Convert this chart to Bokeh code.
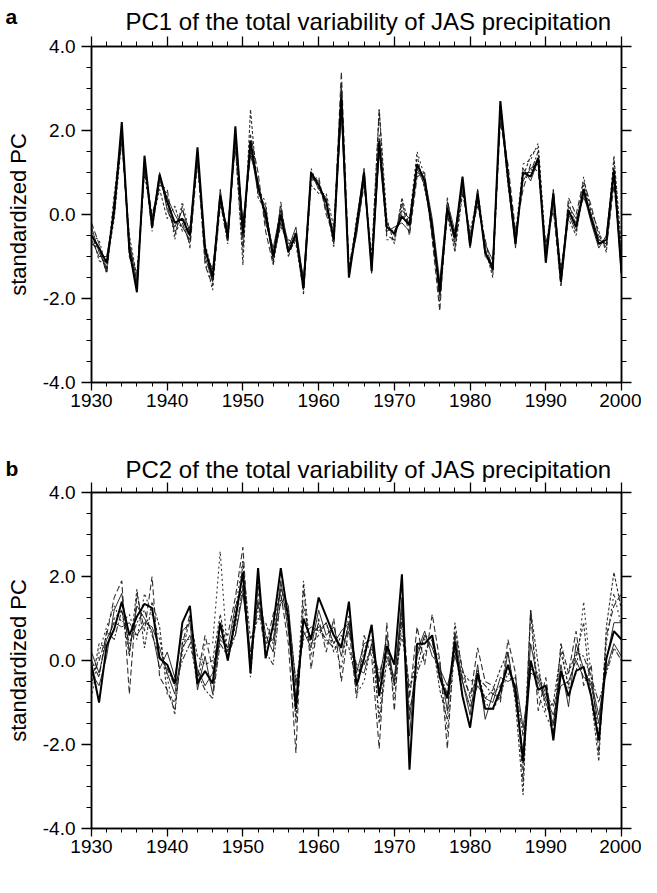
from bokeh.plotting import figure
from bokeh.layouts import column
from bokeh.models import (LinearAxis, SingleIntervalTicker, PrintfTickFormatter,
                          Range1d, Label, Title)
from bokeh.embed import file_html
from bokeh.resources import INLINE

years = list(range(1930, 2001))

# ---------- panel a: PC1 ----------
pc1_main = [
    -0.5, -0.8, -1.15, 0.1, 2.2, -0.85, -1.85, 1.4, -0.3, 0.95,
    0.3, -0.2, -0.1, -0.5, 1.6, -0.8, -1.5, 0.45, -0.55, 2.1,
    -0.45, 1.75, 0.65, 0.0, -1.0, 0.0, -0.9, -0.45, -1.75, 1.0,
    0.7, 0.3, -0.6, 2.8, -1.5, -0.3, 1.0, -1.35, 1.75, -0.3,
    -0.45, -0.05, -0.25, 1.2, 0.8, -0.3, -1.85, 0.15, -0.55, 0.9,
    -0.75, 0.5, -0.9, -1.3, 2.7, 0.9, -0.7, 1.0, 0.9, 1.35,
    -1.15, 0.5, -1.6, 0.1, -0.3, 0.6, -0.1, -0.7, -0.6, 1.05,
    -1.4]
pc1_s2 = [
    -0.3, -0.9, -1.3, 0.3, 2.0, -0.7, -1.6, 1.2, -0.1, 0.8,
    0.4, 0.0, -0.3, -0.6, 1.4, -0.9, -1.3, 0.3, -0.4, 1.8,
    -0.2, 1.4, 0.8, -0.2, -0.8, 0.1, -0.7, -0.6, -1.5, 0.9,
    0.8, 0.1, -0.4, 2.4, -1.3, -0.5, 0.8, -1.2, 1.5, -0.4,
    -0.3, -0.2, -0.4, 1.0, 0.9, -0.1, -1.6, 0.3, -0.4, 0.7,
    -0.6, 0.3, -0.7, -1.1, 2.4, 1.0, -0.5, 0.8, 1.1, 1.2,
    -0.9, 0.3, -1.4, 0.2, -0.1, 0.4, 0.0, -0.6, -0.7, 0.9,
    -1.2]
pc1_s3 = [
    -0.6, -1.0, -1.0, 0.0, 1.9, -0.9, -1.7, 1.3, -0.2, 1.0,
    0.1, -0.3, 0.1, -0.4, 1.5, -1.0, -1.6, 0.6, -0.6, 1.9,
    -0.6, 1.6, 0.5, 0.2, -1.1, -0.2, -0.8, -0.3, -1.6, 1.0,
    0.6, 0.4, -0.7, 2.6, -1.4, -0.2, 1.1, -1.4, 1.6, -0.2,
    -0.5, 0.1, -0.1, 1.1, 0.7, -0.4, -1.7, 0.0, -0.6, 0.8,
    -0.8, 0.6, -1.0, -1.2, 2.5, 0.8, -0.8, 1.1, 0.8, 1.3,
    -1.0, 0.6, -1.5, 0.0, -0.4, 0.5, -0.2, -0.8, -0.5, 1.1,
    -1.5]
pc1_d1 = [
    -0.2, -0.7, -1.4, 0.4, 1.7, -0.6, -1.8, 1.1, 0.0, 0.7,
    0.6, -0.5, 0.2, -0.8, 1.3, -1.2, -1.7, 0.2, -0.3, 1.6,
    -0.9, 1.9, 1.0, -0.4, -1.2, 0.3, -1.0, -0.5, -1.9, 0.8,
    0.9, 0.0, -0.5, 3.4, -1.2, -0.4, 0.7, -1.1, 2.5, -0.5,
    -0.6, 0.3, -0.5, 0.9, 1.0, -0.6, -2.3, 0.4, -0.8, 0.6,
    -0.5, 0.2, -0.6, -1.4, 2.2, 1.2, -0.4, 0.6, 1.2, 1.0,
    -0.7, 0.1, -1.7, 0.4, 0.0, 0.8, 0.2, -0.5, -0.8, 0.7,
    -1.0]
pc1_d2 = [
    -0.4, -1.1, -1.2, -0.1, 1.8, -0.5, -1.5, 1.0, -0.2, 0.6,
    -0.1, 0.2, -0.4, -0.3, 1.2, -0.7, -1.4, 0.5, -0.5, 1.7,
    -1.2, 2.5, 0.4, 0.1, -0.9, -0.3, -0.6, -0.7, -1.8, 0.7,
    0.5, 0.5, -0.3, 3.0, -1.5, -0.1, 0.9, -1.0, 2.5, -0.1,
    -0.7, 0.4, -0.3, 1.4, 0.6, -0.2, -2.0, 0.0, -0.9, 0.5,
    -0.4, 0.4, -0.8, -1.5, 2.6, 0.7, -0.6, 0.9, 1.4, 1.6,
    -0.8, 0.4, -1.3, -0.1, -0.5, 0.7, 0.1, -0.4, -0.9, 1.4,
    -0.8]
pc1_d3 = [
    -0.7, -0.8, -1.4, 0.2, 2.1, -1.0, -1.6, 1.2, -0.4, 0.9,
    0.2, -0.4, -0.2, -0.7, 1.5, -0.9, -1.6, 0.3, -0.7, 2.0,
    -0.3, 1.5, 0.7, -0.1, -1.0, 0.2, -0.9, -0.6, -1.7, 0.9,
    0.7, 0.2, -0.6, 3.1, -1.4, -0.4, 1.0, -1.3, 1.8, -0.3,
    -0.4, 0.0, -0.2, 1.2, 0.8, -0.5, -1.9, 0.1, -0.5, 0.8,
    -0.7, 0.5, -0.9, -1.2, 2.6, 1.1, -0.7, 1.0, 1.0, 1.5,
    -1.1, 0.5, -1.7, 0.1, -0.2, 0.6, -0.1, -0.6, -0.7, 1.0,
    -1.3]
pc1_d4 = [
    -0.5, -0.6, -1.3, 0.5, 1.9, -0.8, -1.4, 1.0, -0.1, 0.7,
    0.5, -0.6, 0.3, -0.5, 1.3, -1.1, -1.8, 0.4, -0.6, 1.9,
    -0.5, 1.8, 0.6, 0.3, -1.2, -0.1, -0.8, -0.4, -1.8, 1.1,
    0.6, 0.3, -0.8, 2.9, -1.3, -0.2, 0.8, -1.2, 1.9, -0.6,
    -0.6, 0.2, -0.1, 1.5, 0.9, -0.3, -2.1, 0.2, -0.7, 0.7,
    -0.6, 0.6, -0.7, -1.3, 2.4, 0.9, -0.5, 1.2, 1.3, 1.7,
    -0.9, 0.3, -1.5, 0.3, -0.3, 0.9, 0.0, -0.7, -0.6, 1.3,
    -1.1]

# ---------- panel b: PC2 ----------
pc2_main = [
    -0.1, -1.0, 0.35, 0.75, 1.4, 0.6, 1.05, 1.35, 1.25, 0.05,
    -0.1, -0.55, 0.9, 1.3, -0.55, -0.25, -0.55, 0.9, 0.0, 1.0,
    2.1, -0.3, 2.2, 0.05, 0.85, 2.2, 1.0, -1.15, 1.0, 0.5,
    1.5, 1.05, 0.6, 0.3, 1.4, -0.6, 0.05, 0.85, -0.85, 0.35,
    -0.1, 2.05, -2.6, 0.4, 0.4, 0.6, -0.4, -0.9, 0.45, -0.85,
    -1.6, -0.3, -1.15, -1.15, -0.7, -0.1, -0.7, -2.4, 0.0, -0.7,
    -0.6, -1.9, -0.25, -0.85, -0.25, -0.15, -0.85, -1.9, 0.05, 0.7,
    0.5]
pc2_s2 = [
    0.2, -0.3, 0.5, 0.9, 0.8, 0.9, 0.6, 0.9, 0.8, 0.3,
    -0.3, -0.8, 0.3, 0.6, -0.2, -0.6, -0.3, 0.5, 0.3, 0.6,
    1.6, 0.2, 1.4, 0.4, 0.5, 1.7, 1.3, -0.6, 0.6, 0.8,
    0.7, 0.9, 0.4, 0.7, 0.9, -0.3, 0.4, 0.5, -0.5, 0.1,
    -0.4, 1.2, -1.4, 0.1, 0.6, 0.3, -0.2, -0.6, 0.1, -0.5,
    -1.1, -0.6, -0.9, -1.0, -0.4, -0.5, -0.4, -1.6, -0.3, -0.4,
    -0.9, -1.3, -0.6, -0.5, 0.0, -0.4, -0.5, -1.3, -0.2, 0.4,
    0.1]
pc2_s3 = [
    -0.3, -0.6, 0.1, 1.2, 1.6, 0.2, 1.3, 1.0, 0.7, -0.2,
    0.2, -0.4, 0.7, 0.9, -0.7, 0.1, -0.8, 0.6, 0.3, 1.3,
    1.7, -0.1, 1.8, 0.6, 0.2, 1.9, 0.7, -0.9, 0.7, 0.3,
    1.2, 0.6, 0.8, 0.1, 0.9, -0.2, -0.3, 0.4, -0.5, 0.6,
    -0.6, 1.5, -1.8, 0.2, 0.7, 0.1, -0.1, -1.2, 0.6, -0.5,
    -1.3, -0.1, -1.4, -0.8, -0.9, 0.2, -0.9, -2.2, 0.4, -0.5,
    -1.0, -1.5, -0.1, -1.1, 0.4, -0.2, -0.6, -1.5, 0.0, 0.9,
    0.9]
pc2_d1 = [
    -0.4, 0.0, 0.6, 1.5, 1.9, -0.8, 1.6, 0.7, 2.0, -0.4,
    -0.7, -1.2, 0.4, 1.1, -0.4, 0.6, -0.2, 0.8, 0.6, 1.5,
    2.7, -0.2, 1.6, 0.3, 1.1, 1.6, 0.4, -2.2, 1.8, -0.2,
    1.0, 0.2, 1.0, -0.5, 0.8, -0.9, 0.6, 0.1, -2.1, 0.9,
    -1.2, 1.4, -0.9, 0.8, -0.1, 1.1, 0.0, -2.1, 0.7, -0.2,
    -0.9, 0.3, -0.5, -0.6, -1.0, 0.5, -0.3, -2.9, 1.2, -1.2,
    -0.4, -1.7, 0.4, -0.3, 0.7, -0.6, -0.1, -2.2, 0.6, 1.3,
    1.6]
pc2_d2 = [
    -0.6, 0.4, 0.3, 1.0, 1.2, 0.1, 1.7, 0.3, 1.4, 0.8,
    -0.8, -1.0, 0.2, 1.0, 0.1, -0.1, 0.0, 1.1, 0.2, 0.8,
    2.3, 0.5, 1.0, 0.9, 0.4, 1.4, 1.2, -1.5, 1.3, 0.4,
    0.6, 0.9, 0.2, 0.6, 0.3, -0.5, 0.2, 0.8, -1.5, 0.0,
    -0.5, 0.6, -0.6, -0.2, 0.6, 0.5, -0.7, -1.4, 0.9, -0.3,
    -0.5, -0.4, -0.9, -0.7, -0.2, 0.2, -1.0, -3.2, 1.2, -0.1,
    -1.2, -1.0, 0.2, -0.6, 0.1, 0.9, -0.9, -2.4, 0.8, 2.1,
    1.2]
pc2_d3 = [
    0.0, -0.4, 0.7, 0.5, 1.2, 0.4, 0.9, 1.2, 0.6, 0.1,
    -0.2, -0.6, 0.0, 0.4, -0.3, -0.7, -0.9, 0.4, 0.1, 0.6,
    1.8, 0.0, 1.3, 0.2, -0.1, 1.5, 1.1, -0.5, 0.5, 0.6,
    0.8, 0.5, 0.3, 0.4, 0.7, -0.1, -0.1, 0.3, -0.3, 0.3,
    -0.6, 1.0, -1.2, -0.3, 0.2, 0.5, -0.3, -0.8, 0.2, -0.4,
    -0.8, -0.4, -0.6, -0.8, -0.6, -0.2, -0.6, -1.8, -0.2, -0.3,
    -0.8, -1.1, -0.4, -0.3, 0.2, 0.1, -0.4, -1.0, -0.3, 0.3,
    0.0]
pc2_d4 = [
    -0.9, 0.2, 0.8, 1.3, 0.9, 1.1, 0.5, 1.6, 1.1, 0.5,
    -0.4, -1.3, 0.5, 0.5, -0.6, 0.4, 0.4, 2.6, 0.0, 1.2,
    2.4, -0.4, 1.9, 0.5, 0.7, 1.8, 0.9, -1.3, 1.9, 0.1,
    0.9, 0.4, 0.5, -0.2, 1.1, -0.8, -0.5, 0.4, -1.3, 0.4,
    -0.9, 0.9, -0.8, 0.2, 0.5, 0.4, 0.0, -1.7, 0.3, -0.9,
    -1.0, -0.2, -1.0, -1.2, -0.8, -0.3, -0.7, -2.6, 1.2, -0.8,
    -1.3, -1.7, 0.4, -0.7, -0.3, 1.4, -0.4, -1.8, 0.4, 1.6,
    0.8]

titles = ["PC1 of the total variability of JAS precipitation",
          "PC2 of the total variability of JAS precipitation"]
panel_letters = ["a", "b"]
ylabel = "standardized PC"

FONT = "Liberation Sans"
FRAME_W = 530
FRAME_H = 336
TOP_A = 46

# style of each member: (dash, width, alpha)
styles = [
    ("solid", 1.0, 0.9),
    ("solid", 1.0, 0.9),
    ("6 3", 1.1, 0.9),
    ("3 2", 1.1, 0.9),
    ("6 2 2 2", 1.1, 0.9),
    ("2 3", 1.1, 0.9),
]


def style_axis(ax, labels, tick_out, minor_out):
    ax.axis_line_width = 1.5
    ax.axis_line_color = "black"
    ax.major_tick_line_color = "black"
    ax.minor_tick_line_color = "black"
    ax.major_tick_line_width = 1.3
    ax.minor_tick_line_width = 1.0
    ax.major_tick_out = tick_out
    ax.major_tick_in = 0
    ax.minor_tick_out = minor_out
    ax.minor_tick_in = 0
    ax.major_label_text_font = FONT
    ax.major_label_text_font_size = "19px"
    ax.major_label_text_color = "black"
    ax.major_label_standoff = 5
    if not labels:
        ax.major_label_text_font_size = "0px"
        ax.major_label_text_alpha = 0
        ax.major_label_standoff = 0


def make_panel(members, main, top_border):
    p = figure(width=641, frame_width=FRAME_W, frame_height=FRAME_H,
               x_range=Range1d(1930, 2000), y_range=Range1d(-4, 4),
               output_backend="svg", toolbar_location=None,
               min_border_left=91, min_border_right=20,
               min_border_top=top_border, min_border_bottom=0,
               x_axis_location=None, y_axis_location=None)
    p.xgrid.visible = False
    p.ygrid.visible = False
    p.outline_line_color = "black"
    p.outline_line_width = 1.5
    p.background_fill_color = "white"
    p.border_fill_color = "white"

    for series, (dash, lw, a) in zip(members, styles):
        p.line(years, series, line_color="#1a1a1a", line_width=lw,
               line_dash=dash, line_alpha=a)
    p.line(years, main, line_color="black", line_width=2.0)

    xb = LinearAxis(ticker=SingleIntervalTicker(interval=10, num_minor_ticks=5),
                    formatter=PrintfTickFormatter(format="%d"))
    style_axis(xb, True, 8, 4)
    xb.major_label_standoff = 3
    p.add_layout(xb, "below")

    xt = LinearAxis(ticker=SingleIntervalTicker(interval=10, num_minor_ticks=5),
                    formatter=PrintfTickFormatter(format="%d"))
    style_axis(xt, False, 10, 5)
    p.add_layout(xt, "above")

    yl = LinearAxis(ticker=SingleIntervalTicker(interval=2, num_minor_ticks=4),
                    formatter=PrintfTickFormatter(format="%.1f"))
    style_axis(yl, True, 10, 5)
    yl.major_label_standoff = 6
    yl.axis_label = ylabel
    yl.axis_label_text_font = FONT
    yl.axis_label_text_font_size = "22px"
    yl.axis_label_text_font_style = "normal"
    yl.axis_label_text_color = "black"
    yl.axis_label_standoff = 9
    p.add_layout(yl, "left")

    yr = LinearAxis(ticker=SingleIntervalTicker(interval=2, num_minor_ticks=4),
                    formatter=PrintfTickFormatter(format="%.1f"))
    style_axis(yr, False, 10, 5)
    p.add_layout(yr, "right")
    return p


def letter_label(text, y):
    return Label(x=5, y=y, x_units="canvas", y_units="canvas",
                 text=text, text_font=FONT, text_font_size="21px",
                 text_font_style="bold", text_baseline="middle",
                 text_align="left", text_color="black")


pa = make_panel([pc1_s2, pc1_s3, pc1_d1, pc1_d2, pc1_d3, pc1_d4], pc1_main, TOP_A)
pb = make_panel([pc2_s2, pc2_s3, pc2_d1, pc2_d2, pc2_d3, pc2_d4], pc2_main, 10)

# panel a title (in the panel above the frame)
pa.add_layout(Title(text=titles[0], align="left", offset=34,
                    text_font=FONT, text_font_size="24px",
                    text_font_style="normal", text_color="black",
                    standoff=3), "above")

# headings are placed in side panels of the upper figure so they are not clipped;
# their rows also supply the gap between the two panels
pa.add_layout(letter_label(panel_letters[0], 16), "below")
BASE_B = TOP_A + FRAME_H + 33 + 23 + 23 + 28 + 10 - 30   # canvas y of panel b heading
pa.add_layout(letter_label(panel_letters[1], BASE_B - 1), "below")
pa.add_layout(Label(x=125, y=BASE_B, x_units="canvas", y_units="canvas",
                    text=titles[1], text_font=FONT, text_font_size="24px",
                    text_baseline="middle", text_align="left",
                    text_color="black"), "below")

layout = column(pa, pb, spacing=0)
open("out.html", "w").write(file_html(layout, INLINE))
